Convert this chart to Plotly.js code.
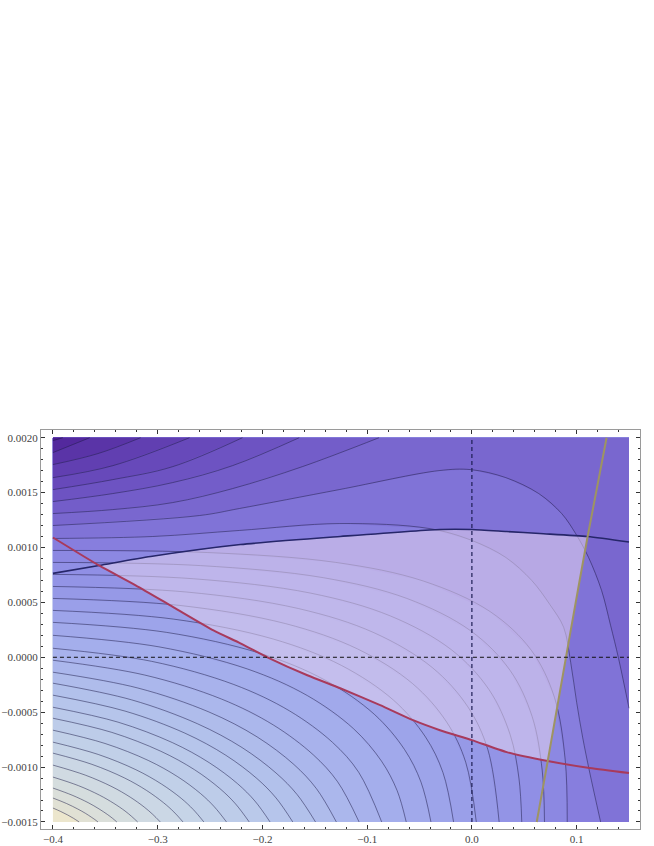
<!DOCTYPE html>
<html>
<head>
<meta charset="utf-8">
<script src="https://cdn.plot.ly/plotly-3.0.1.min.js"></script>
<style>
  html, body { margin: 0; padding: 0; background: #fff; }
  #plot { width: 654px; height: 846px; }
</style>
</head>
<body>
<div id="plot"></div>
<script>
// plotted area
var xEdge = [-0.4, 0.15];
var yEdge = [-0.0015, 0.002];

// contour lines, lowest level first (bottom-left corner outwards)
var levelX = [
  [-0.4, -0.3925, -0.3862, -0.3805, -0.375],
  [-0.4, -0.387, -0.3763, -0.369, -0.3634, -0.36, -0.357],
  [-0.4, -0.3817, -0.3664, -0.356, -0.3481, -0.3432, -0.339],
  [-0.4, -0.3757, -0.3555, -0.3418, -0.3312, -0.3248, -0.3191],
  [-0.4, -0.3692, -0.3436, -0.3262, -0.3129, -0.3047, -0.2975],
  [-0.4, -0.3628, -0.3317, -0.3106, -0.2945, -0.2845, -0.2758],
  [-0.4, -0.3568, -0.3208, -0.2963, -0.2775, -0.266, -0.2559],
  [-0.4, -0.3503, -0.3089, -0.2807, -0.2591, -0.2459, -0.2343],
  [-0.4, -0.3438, -0.297, -0.265, -0.2407, -0.2257, -0.2126],
  [-0.4, -0.3378, -0.286, -0.2508, -0.2238, -0.2071, -0.1927],
  [-0.4, -0.3312, -0.274, -0.235, -0.2053, -0.187, -0.171],
  [-0.4, -0.3248, -0.2621, -0.2195, -0.187, -0.1669, -0.1493],
  [-0.4, -0.3189, -0.2511, -0.2051, -0.17, -0.1484, -0.1294],
  [-0.4, -0.3123, -0.2392, -0.1895, -0.1515, -0.1282, -0.1077],
  [-0.4, -0.3058, -0.2273, -0.174, -0.1331, -0.1081, -0.0861],
  [-0.4, -0.2988, -0.2145, -0.1571, -0.1132, -0.0863, -0.0714, -0.0627],
  [-0.4, -0.2917, -0.2015, -0.1402, -0.0932, -0.0644, -0.0486, -0.0391],
  [-0.4, -0.2852, -0.1896, -0.1246, -0.0749, -0.0443, -0.0276, -0.0175],
  [-0.4, -0.2788, -0.1777, -0.109, -0.0565, -0.0241, -0.0059, 0.0042],
  [-0.4, -0.2722, -0.1657, -0.0933, -0.0379, -0.0038, 0.0153, 0.026],
  [-0.4, -0.2657, -0.1538, -0.0777, -0.0195, 0.0163, 0.0365, 0.0449, 0.0476],
  [-0.4, -0.2592, -0.1419, -0.0621, -0.001, 0.0365, 0.0576, 0.0671, 0.0693],
  [-0.4, -0.2527, -0.1299, -0.0465, 0.0174, 0.0567, 0.0788, 0.0891, 0.091],
  [-0.4, -0.3048, -0.2219, -0.1267, -0.041, 0, 0.0324, 0.0571, 0.0743, 0.0876, 0.0943, 0.1, 0.1057, 0.1124, 0.1229],
  [-0.4, -0.26, -0.2219, -0.1267, -0.0314, -0.001, 0.0324, 0.0638, 0.0857, 0.099, 0.1114, 0.1238, 0.1324, 0.14, 0.15],
  [-0.4, -0.3429, -0.2857, -0.2286, -0.1619, -0.0886],
  [-0.4, -0.3429, -0.2857, -0.2286, -0.1648],
  [-0.4, -0.3429, -0.2857, -0.219],
  [-0.4, -0.3429, -0.2695],
  [-0.4, -0.3571, -0.3162],
  [-0.4, -0.3648],
  [-0.4, -0.3905]
];
var levelY = [
  [-0.001373, -0.001405, -0.001435, -0.001466, -0.0015],
  [-0.001282, -0.001332, -0.001382, -0.001421, -0.001456, -0.001478, -0.0015],
  [-0.001191, -0.001256, -0.001324, -0.001381, -0.001431, -0.001466, -0.0015],
  [-0.001091, -0.001169, -0.001256, -0.001331, -0.0014, -0.00145, -0.0015],
  [-0.000982, -0.001073, -0.001179, -0.001274, -0.001364, -0.001431, -0.0015],
  [-0.000873, -0.000975, -0.001099, -0.001213, -0.001324, -0.001409, -0.0015],
  [-0.000773, -0.000885, -0.001024, -0.001155, -0.001285, -0.001387, -0.0015],
  [-0.000664, -0.000785, -0.00094, -0.001089, -0.001241, -0.001362, -0.0015],
  [-0.000555, -0.000684, -0.000856, -0.001023, -0.001195, -0.001335, -0.0015],
  [-0.000455, -0.000591, -0.000777, -0.00096, -0.001151, -0.00131, -0.0015],
  [-0.000345, -0.00049, -0.000691, -0.000892, -0.001104, -0.001281, -0.0015],
  [-0.000236, -0.000388, -0.000605, -0.000822, -0.001054, -0.00125, -0.0015],
  [-0.000136, -0.00028, -0.000498, -0.000725, -0.000976, -0.001197, -0.0015],
  [-0.000027, -0.000162, -0.00038, -0.000617, -0.000888, -0.001134, -0.0015],
  [0.000082, -0.000037, -0.000248, -0.000489, -0.000775, -0.001047, -0.0015],
  [0.0002, 0.000095, -0.000106, -0.000349, -0.000649, -0.000946, -0.001214, -0.0015],
  [0.000318, 0.000227, 0.000034, -0.000208, -0.000519, -0.000839, -0.001137, -0.0015],
  [0.000427, 0.000348, 0.000166, -0.000074, -0.00039, -0.000726, -0.001051, -0.0015],
  [0.000536, 0.000472, 0.000306, 0.000075, -0.000241, -0.00059, -0.000956, -0.0015],
  [0.000645, 0.000594, 0.000444, 0.000223, -0.000093, -0.000452, -0.000843, -0.0015],
  [0.000755, 0.000715, 0.000584, 0.000376, 0.000068, -0.000294, -0.000704, -0.0011, -0.0015],
  [0.000864, 0.000835, 0.000725, 0.000536, 0.00024, -0.00012, -0.000542, -0.001027, -0.0015],
  [0.000973, 0.000954, 0.000864, 0.000695, 0.000416, 0.000064, -0.000365, -0.000936, -0.0015],
  [0.001082, 0.0011, 0.001155, 0.001218, 0.001173, 0.001064, 0.000909, 0.0007, 0.000482, 0.000273, -0.000045, -0.000409, -0.000727, -0.001045, -0.0015],
  [0.0012, 0.001291, 0.001355, 0.001527, 0.0017, 0.001709, 0.001636, 0.001491, 0.001309, 0.001127, 0.000909, 0.000609, 0.000291, -0.000009, -0.000464],
  [0.001309, 0.001345, 0.001409, 0.001536, 0.001736, 0.002],
  [0.001418, 0.001491, 0.001591, 0.001745, 0.002],
  [0.001527, 0.001618, 0.001736, 0.002],
  [0.001636, 0.001745, 0.002],
  [0.001755, 0.001855, 0.002],
  [0.001864, 0.002],
  [0.001973, 0.002]
];

// corner colour first, then the band above each contour line in turn
var bandColors = [
  'rgb(236,230,205)',
  'rgb(225,225,212)', 'rgb(219,223,218)', 'rgb(213,221,222)',
  'rgb(208,218,226)', 'rgb(203,215,229)', 'rgb(198,212,231)', 'rgb(193,208,232)', 'rgb(189,204,233)',
  'rgb(186,201,234)', 'rgb(182,197,235)', 'rgb(178,193,235)', 'rgb(175,188,235)', 'rgb(171,183,236)',
  'rgb(168,178,236)', 'rgb(164,174,236)', 'rgb(161,169,235)', 'rgb(157,164,234)', 'rgb(154,159,233)',
  'rgb(150,153,231)', 'rgb(147,148,230)', 'rgb(144,143,229)', 'rgb(140,136,226)', 'rgb(135,126,222)',
  'rgb(128,115,215)', 'rgb(121,103,207)', 'rgb(115,93,201)', 'rgb(109,83,194)', 'rgb(103,73,186)',
  'rgb(97,63,177)', 'rgb(90,52,167)', 'rgb(83,41,157)', 'rgb(76,30,146)'
];

// upper boundary (dark blue)
var blueX = [-0.4, -0.356, -0.3067, -0.221, -0.1257, -0.0305, 0, 0.0333, 0.0648, 0.1105, 0.15];
var blueY = [0.000764, 0.000836, 0.000918, 0.001027, 0.0011, 0.001164, 0.001164, 0.001145, 0.001127, 0.0011, 0.00105];
// lower boundary (red)
var redX = [-0.4, -0.356, -0.321, -0.2848, -0.2467, -0.221, -0.1952, -0.1571, -0.1257, -0.0876,
            -0.0562, -0.0305, 0, 0.0333, 0.0724, 0.1124, 0.15];
var redY = [0.001091, 0.000836, 0.000655, 0.000455, 0.000245, 0.000127, 0, -0.000164, -0.000282, -0.000436,
            -0.000573, -0.000664, -0.000755, -0.000864, -0.000945, -0.001009, -0.001055];
// right boundary (tan)
var tanX = [0.1286, 0.1105, 0.0952, 0.0724, 0.0619];
var tanY = [0.002, 0.0011, 0.000291, -0.000945, -0.0015];

var xTickVals = [-0.4, -0.3, -0.2, -0.1, 0, 0.1];
var xTickText = ['\u22120.4', '\u22120.3', '\u22120.2', '\u22120.1', '0.0', '0.1'];
var yTickVals = [-0.0015, -0.001, -0.0005, 0, 0.0005, 0.001, 0.0015, 0.002];
var yTickText = ['\u22120.0015', '\u22120.0010', '\u22120.0005', '0.0000', '0.0005', '0.0010', '0.0015', '0.0020'];

var traces = [];

// base colour, then each "this level or higher" area painted over it
traces.push({
    type: 'scatter', mode: 'lines',
    x: [xEdge[0], xEdge[1], xEdge[1], xEdge[0]],
    y: [yEdge[0], yEdge[0], yEdge[1], yEdge[1]],
    fill: 'toself', fillcolor: bandColors[0], line: { width: 0 }, hoverinfo: 'skip'
});
levelX.forEach(function (lx, i) {
    var ly = levelY[i];
    var px = lx.slice(), py = ly.slice();
    var lastX = lx[lx.length - 1], lastY = ly[ly.length - 1];
    if (lastY === yEdge[0]) {
        px.push(xEdge[1], xEdge[1]); py.push(yEdge[0], yEdge[1]);
    } else if (lastX === xEdge[1]) {
        px.push(xEdge[1]); py.push(yEdge[1]);
    }
    px.push(xEdge[0]); py.push(yEdge[1]);
    traces.push({
        type: 'scatter', mode: 'lines', x: px, y: py,
        fill: 'toself', fillcolor: bandColors[i + 1], line: { width: 0 }, hoverinfo: 'skip'
    });
});
levelX.forEach(function (lx, i) {
    traces.push({
        type: 'scatter', mode: 'lines', x: lx, y: levelY[i],
        line: { color: 'rgba(30,28,70,0.5)', width: 1, shape: 'spline', smoothing: 1 },
        hoverinfo: 'skip'
    });
});

// region = blue from the red crossing to the tan crossing, down the tan line, back along red
var regionX = blueX.slice(1, 10).concat(tanX.slice(2, 4), redX.slice(1, 14).reverse());
var regionY = blueY.slice(1, 10).concat(tanY.slice(2, 4), redY.slice(1, 14).reverse());
traces.push({
    type: 'scatter', mode: 'lines', x: regionX, y: regionY,
    fill: 'toself', fillcolor: 'rgba(226,210,239,0.56)', line: { width: 0 }, hoverinfo: 'skip'
});
traces.push({
    type: 'scatter', mode: 'lines', x: blueX, y: blueY,
    line: { color: 'rgb(38,38,105)', width: 1.6, shape: 'spline', smoothing: 0.6 }, hoverinfo: 'skip'
});
traces.push({
    type: 'scatter', mode: 'lines', x: redX, y: redY,
    line: { color: 'rgb(168,58,92)', width: 2, shape: 'spline', smoothing: 0.6 }, hoverinfo: 'skip'
});
traces.push({
    type: 'scatter', mode: 'lines', x: tanX, y: tanY,
    line: { color: 'rgb(158,148,98)', width: 2, shape: 'spline', smoothing: 0.6 }, hoverinfo: 'skip'
});

var tickFont = { family: 'Liberation Serif, serif', size: 11, color: '#444' };

var layout = {
    width: 654,
    height: 846,
    margin: { l: 41, r: 14, t: 430, b: 17 },
    paper_bgcolor: '#fff',
    plot_bgcolor: '#fff',
    showlegend: false,
    hovermode: false,
    xaxis: {
        range: [-0.4114, 0.1605],
        showgrid: false, zeroline: false,
        showline: true, mirror: 'ticks', linecolor: '#9a9a9a', linewidth: 1,
        tickmode: 'array', tickvals: xTickVals, ticktext: xTickText,
        ticks: 'inside', ticklen: 4, tickcolor: '#333', tickwidth: 1,
        minor: { tick0: 0, dtick: 0.02, ticks: 'inside', ticklen: 2, tickcolor: '#333', showgrid: false },
        tickfont: tickFont,
        automargin: false
    },
    yaxis: {
        range: [-0.001564, 0.00207],
        showgrid: false, zeroline: false,
        showline: true, mirror: 'ticks', linecolor: '#9a9a9a', linewidth: 1,
        tickmode: 'array', tickvals: yTickVals, ticktext: yTickText,
        ticks: 'inside', ticklen: 4, tickcolor: '#333', tickwidth: 1,
        minor: { tick0: 0, dtick: 0.0001, ticks: 'inside', ticklen: 2, tickcolor: '#333', showgrid: false },
        tickfont: tickFont,
        automargin: false
    },
    shapes: [
        { type: 'line', xref: 'x', yref: 'y', x0: xEdge[0], x1: xEdge[1], y0: 0, y1: 0,
          line: { color: '#111', width: 1, dash: '4px,3px' }, layer: 'above' },
        { type: 'line', xref: 'x', yref: 'y', x0: 0, x1: 0, y0: yEdge[0], y1: yEdge[1],
          line: { color: '#1e1e55', width: 1.2, dash: '4px,3px' }, layer: 'above' }
    ]
};

Plotly.newPlot('plot', traces, layout, { displayModeBar: false, staticPlot: true });
</script>
</body>
</html>
